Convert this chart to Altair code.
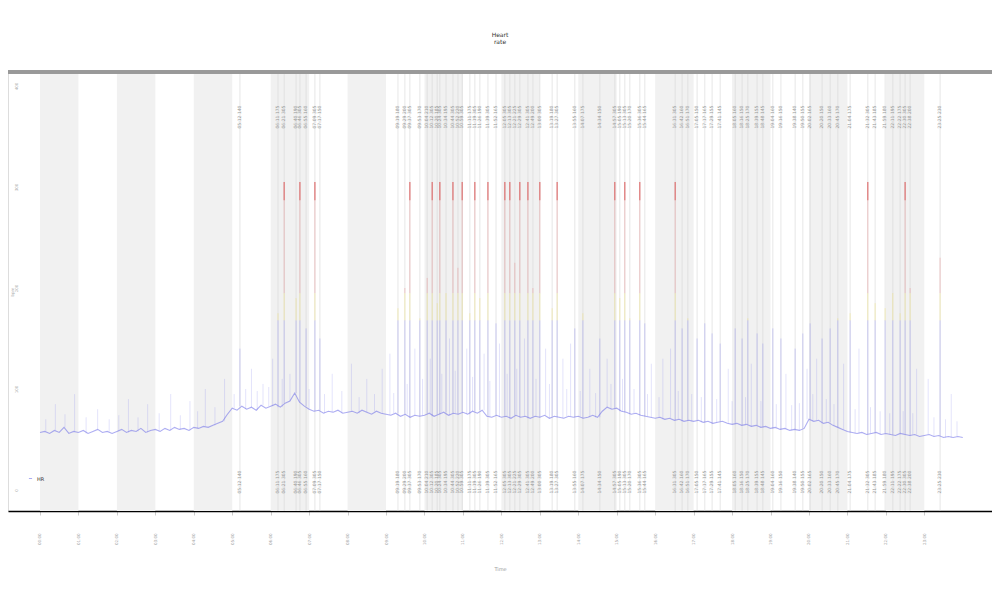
import altair as alt
import pandas as pd

# ---------------- data ----------------
STEP = 0.125  # hours between baseline samples
baseline = [
    57, 58, 56, 59, 57, 62, 56, 58,
    57, 59, 56, 58, 60, 57, 58, 56,
    58, 60, 57, 59, 58, 61, 57, 59,
    60, 58, 61, 59, 62, 60, 61, 59,
    62, 61, 63, 62, 64, 66, 68, 75,
    81, 79, 83, 80, 82, 79, 84, 81,
    83, 85, 82, 86, 88, 96, 87, 83,
    80, 78, 79, 76, 78, 77, 79, 76,
    77, 78, 76, 79, 77, 75, 78, 76,
    75, 74, 76, 73, 75, 72, 74, 73,
    74, 76, 73, 75, 77, 74, 76, 75,
    77, 75, 78, 76, 79, 73, 72, 74,
    72, 73, 71, 74, 72, 73, 71, 73,
    72, 74, 71, 73, 72, 71, 73, 72,
    73, 71, 72, 74, 72, 78, 82, 80,
    81, 78, 77, 75, 76, 74, 73, 72,
    71, 72, 70, 71, 69, 70, 68, 69,
    68, 69, 67, 68, 66, 67, 68, 66,
    65, 66, 64, 65, 63, 64, 62, 63,
    61, 62, 60, 61, 59, 60, 59, 61,
    70, 68, 69, 66, 67, 64, 62, 60,
    58, 57, 56, 57, 55, 56, 57, 55,
    56, 55, 54, 56, 55, 54, 55, 53,
    54, 55, 53, 54, 52, 53, 52, 53,
    52,
]

band_starts = [0, 2, 4, 6, 8, 10, 12, 14, 16, 18, 20, 22]

event_hours = [
    5.20, 6.19, 6.35, 6.66, 6.76, 6.92, 7.15, 7.28,
    9.31, 9.49, 9.62, 9.88, 10.07, 10.20, 10.33, 10.40, 10.56, 10.74, 10.87, 10.98,
    11.18, 11.31, 11.44, 11.65, 11.86, 12.09, 12.22, 12.35, 12.48, 12.69, 12.82,
    13.00, 13.32, 13.45, 13.91, 14.12, 14.56, 14.95, 15.08, 15.21, 15.34, 15.60,
    15.73, 16.52, 16.70, 16.85, 17.09, 17.29, 17.48, 17.69, 18.08, 18.26, 18.41,
    18.65, 18.80, 19.06, 19.27, 19.64, 19.84, 20.03, 20.34, 20.55, 20.75, 21.07,
    21.53, 21.72, 21.98, 22.18, 22.37, 22.50, 22.63, 23.41,
]
event_peaks = [
    140, 175, 305, 190, 305, 160, 305, 150,
    180, 200, 305, 170, 210, 305, 185, 305, 195, 305, 220, 305,
    175, 305, 190, 305, 165, 305, 305, 225, 305, 305, 200,
    305, 180, 305, 160, 175, 150, 305, 190, 305, 170, 305,
    165, 305, 160, 170, 150, 165, 155, 145, 160, 150, 170,
    155, 145, 160, 150, 140, 155, 165, 150, 160, 170, 175,
    305, 185, 180, 195, 175, 305, 200, 230,
]

minor_hours = [
    0.4, 0.9, 1.5, 2.3, 2.8, 3.4, 3.9, 4.3, 4.8, 5.5, 5.8, 6.05, 7.6, 8.1,
    8.5, 8.9, 9.1, 9.75, 10.15, 10.65, 11.1, 11.55, 11.95, 12.6, 13.15, 13.6,
    13.8, 14.3, 14.75, 15.9, 16.2, 16.4, 17.9, 18.5, 19.4, 19.95, 20.2, 20.9,
    21.3, 22.8, 23.1, 23.7,
    0.15, 0.65, 1.2, 1.8, 2.05, 2.55, 3.1, 3.65, 4.1, 4.55, 5.05, 5.35, 5.65,
    5.95, 6.3, 6.5, 7.0, 7.4, 7.85, 8.3, 8.7, 9.2, 9.55, 9.95, 10.45, 10.8,
    11.25, 11.7, 12.15, 12.4, 12.9, 13.25, 13.7, 14.05, 14.45, 14.85, 15.15,
    15.45, 15.8, 16.1, 16.6, 16.95, 17.2, 17.6, 18.0, 18.35, 18.75, 19.15,
    19.55, 19.75, 20.1, 20.45, 20.65, 21.2, 21.6, 21.85, 22.1, 22.45, 22.7,
    23.25, 23.55, 23.85,
]
minor_peaks = [
    85, 95, 80, 90, 85, 95, 88, 100, 110, 120, 105, 130, 115, 125,
    110, 120, 135, 140, 130, 150, 140, 135, 145, 150, 140, 130,
    145, 120, 130, 125, 130, 140, 120, 125, 115, 120, 130, 125,
    140, 120, 110, 95,
    70, 75, 72, 70, 74, 72, 76, 74, 78, 82, 95, 100, 98,
    102, 110, 115, 100, 95, 98, 92, 95, 96, 105, 110, 115, 118,
    112, 108, 115, 120, 110, 105, 100, 98, 96, 105, 110,
    100, 95, 92, 98, 95, 92, 90, 88, 92, 88, 85,
    84, 86, 95, 90, 85, 80, 82, 78, 76, 78, 76,
    72, 70, 68,
]

YELLOW_FROM = 168
RED_FROM = 195

# ---------------- tables ----------------
line_df = pd.DataFrame({
    "h": [i * STEP for i in range(len(baseline))],
    "v": baseline,
    "series": "HR",
})
band_df = pd.DataFrame({"start": band_starts, "end": [s + 1 for s in band_starts]})


def base_at(h):
    return baseline[min(len(baseline) - 1, int(round(h / STEP)))]


seg_rows = []
cap_rows = []
for h, p in zip(event_hours, event_peaks):
    b = base_at(h)
    seg_rows.append({"h": h, "y0": b, "y1": min(p, YELLOW_FROM), "zone": "low"})
    if p > YELLOW_FROM:
        seg_rows.append({"h": h, "y0": YELLOW_FROM, "y1": min(p, RED_FROM), "zone": "mid"})
    if p > RED_FROM:
        seg_rows.append({"h": h, "y0": RED_FROM, "y1": p, "zone": "high"})
    if p >= 280:
        cap_rows.append({"h": h, "y0": p - 18, "y1": p})
seg_df = pd.DataFrame(seg_rows)
cap_df = pd.DataFrame(cap_rows)

minor_df = pd.DataFrame({
    "h": minor_hours,
    "y0": [base_at(h) for h in minor_hours],
    "y1": minor_peaks,
})

ev_df = pd.DataFrame({"h": event_hours, "peak": event_peaks})
ev_df["label"] = [
    f"{int(h):02d}:{int(round((h % 1) * 60)) % 60:02d}  {p}" for h, p in zip(event_hours, event_peaks)
]

# ---------------- chart ----------------
W, H = 984, 439
xscale = alt.Scale(domain=[-0.832, 24.76], nice=False, zero=False)
yscale = alt.Scale(domain=[-20.8, 413.9], nice=False, zero=False)

x_axis = alt.Axis(
    values=list(range(24)), title="Time", labelAngle=270, labelFontSize=4,
    labelColor="#999", labelPadding=18, tickSize=4, tickColor="#ccc",
    domainColor="#000", domainWidth=1.5, grid=False, titleFontSize=5,
    titleColor="#999", titlePadding=22, titleFontWeight="normal",
    labelExpr="(datum.value < 10 ? '0' : '') + datum.value + ':00'",
)
y_axis = alt.Axis(
    values=[0, 100, 200, 300, 400], title="bpm", labelAngle=270, labelFontSize=4,
    labelColor="#aaa", offset=-11, tickSize=0, domain=False, grid=False,
    labelPadding=1, titleFontSize=4, titleColor="#aaa", titlePadding=0,
    titleFontWeight="normal",
)

bands = alt.Chart(band_df).mark_rect(color="#f1f1f1").encode(
    x=alt.X("start:Q", scale=xscale, axis=x_axis),
    x2="end:Q",
    y=alt.value(0),
    y2=alt.value(H),
)

ev_rules = alt.Chart(ev_df).mark_rule(color="#d6d6d6", strokeWidth=1, opacity=0.6).encode(
    x=alt.X("h:Q", scale=xscale),
    y=alt.value(0),
    y2=alt.value(H),
)

minor = alt.Chart(minor_df).mark_rule(color="#8a8af0", strokeWidth=0.7, opacity=0.35).encode(
    x=alt.X("h:Q", scale=xscale),
    y=alt.Y("y0:Q", scale=yscale, axis=y_axis),
    y2="y1:Q",
)

line = alt.Chart(line_df).mark_line(strokeWidth=1.1, opacity=0.55).encode(
    x=alt.X("h:Q", scale=xscale),
    y=alt.Y("v:Q", scale=yscale),
    color=alt.Color(
        "series:N",
        scale=alt.Scale(range=["#6a6ae8"]),
        legend=alt.Legend(
            orient="none", legendX=20, legendY=404, title=None,
            labelFontSize=5, labelColor="#333", symbolSize=10,
            symbolType="stroke", symbolStrokeWidth=1, padding=0,
        ),
    ),
)

spikes = alt.Chart(seg_df).mark_rule(strokeWidth=1, opacity=0.35).encode(
    x=alt.X("h:Q", scale=xscale),
    y=alt.Y("y0:Q", scale=yscale),
    y2="y1:Q",
    stroke=alt.Stroke(
        "zone:N",
        scale=alt.Scale(domain=["low", "mid", "high"], range=["#8080f0", "#f0dc50", "#e57373"]),
        legend=None,
    ),
)

caps = alt.Chart(cap_df).mark_rule(color="#d84a4a", strokeWidth=1.1, opacity=0.7).encode(
    x=alt.X("h:Q", scale=xscale),
    y=alt.Y("y0:Q", scale=yscale),
    y2="y1:Q",
)

top_labels = alt.Chart(ev_df).mark_text(
    angle=270, fontSize=4.5, color="#999", font="DejaVu Sans"
).encode(
    x=alt.X("h:Q", scale=xscale),
    y=alt.value(45),
    text="label:N",
)

bottom_labels = alt.Chart(ev_df).mark_text(
    angle=270, fontSize=4.5, color="#999", font="DejaVu Sans"
).encode(
    x=alt.X("h:Q", scale=xscale),
    y=alt.value(410),
    text="label:N",
)

top_line = alt.Chart(band_df).mark_rule(color="#999", strokeWidth=3).encode(
    x=alt.value(0), x2=alt.value(W), y=alt.value(0),
)

chart = alt.layer(
    bands, ev_rules, minor, line, spikes, caps, top_labels, bottom_labels, top_line
).resolve_scale(color="independent").properties(
    width=W,
    height=H,
    title=alt.TitleParams(["Heart", "rate"], fontSize=6, color="#333", offset=26,
                          fontWeight="normal", anchor="middle", lineHeight=7),
    autosize=alt.AutoSizeParams(type="none"),
    padding={"left": 0, "top": 64, "right": 0, "bottom": 70},
).configure_view(stroke=None).configure(font="DejaVu Sans")

chart.save("out.html", embed_options={"renderer": "svg", "actions": False})
